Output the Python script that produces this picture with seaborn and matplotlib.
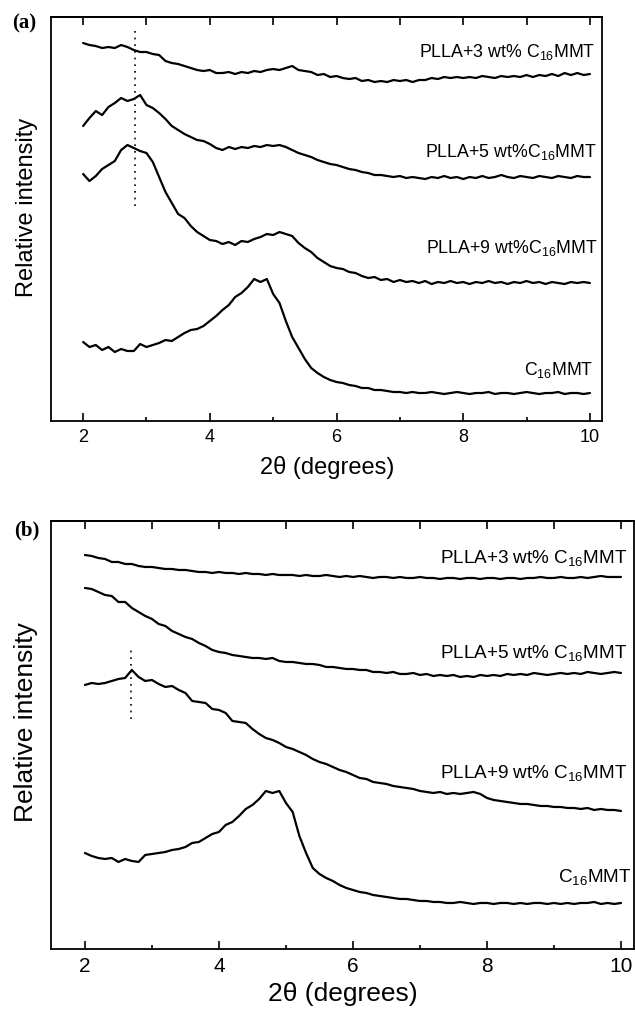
import numpy as np
import pandas as pd
import seaborn as sns
from matplotlib import pyplot as plt

# 2-theta grid shared by every pattern (degrees)
two_theta = [round(2.0 + 0.1 * i, 1) for i in range(81)]

# panel (a) intensities, arbitrary units
a_plla3 = [378, 376, 375, 373, 374, 373, 376, 374, 371, 369,
           369, 367, 366, 360, 358, 357, 355, 353, 351, 350,
           351, 348, 348, 349, 347, 349, 348, 350, 349, 351,
           352, 351, 353, 355, 351, 350, 349, 346, 347, 344,
           345, 343, 342, 343, 340, 341, 339, 340, 339, 341,
           340, 341, 339, 341, 341, 343, 342, 344, 343, 344,
           343, 344, 343, 345, 344, 343, 345, 344, 345, 344,
           346, 344, 346, 345, 347, 345, 348, 346, 348, 346, 347]
a_plla5 = [295, 303, 310, 306, 314, 318, 323, 320, 322, 326,
           316, 313, 308, 302, 295, 291, 287, 284, 281, 280,
           277, 273, 271, 274, 272, 274, 273, 275, 274, 276,
           275, 276, 274, 271, 268, 266, 264, 261, 259, 257,
           256, 254, 252, 251, 249, 248, 246, 246, 245, 244,
           245, 243, 244, 243, 242, 244, 243, 245, 243, 244,
           242, 244, 243, 245, 243, 244, 246, 244, 243, 245,
           244, 243, 245, 244, 243, 245, 244, 243, 245, 244, 244]
a_plla9 = [247, 240, 245, 252, 256, 260, 271, 276, 273, 270,
           268, 259, 244, 229, 218, 207, 203, 195, 189, 185,
           181, 180, 177, 179, 176, 180, 179, 182, 184, 187,
           186, 189, 187, 185, 178, 173, 169, 163, 159, 155,
           153, 152, 149, 148, 145, 143, 144, 141, 142, 139,
           141, 139, 140, 138, 140, 137, 139, 138, 140, 138,
           139, 137, 139, 138, 140, 138, 139, 137, 139, 138,
           140, 138, 139, 137, 139, 138, 137, 139, 138, 139, 138]
a_c16mmt = [79, 74, 76, 71, 74, 69, 72, 70, 70, 77,
            74, 76, 78, 81, 80, 84, 88, 91, 92, 95,
            100, 105, 111, 116, 124, 128, 134, 142, 139, 142,
            127, 118, 100, 84, 73, 62, 53, 48, 44, 41,
            39, 38, 36, 35, 33, 33, 31, 31, 30, 29,
            29, 28, 29, 28, 28, 29, 28, 27, 28, 29,
            28, 27, 28, 28, 29, 27, 28, 28, 27, 28,
            29, 28, 27, 28, 28, 29, 27, 28, 28, 27, 28]

# panel (b) intensities, arbitrary units
b_plla3 = [394, 393, 391, 390, 387, 387, 385, 385, 383, 382,
           382, 381, 380, 380, 379, 379, 378, 377, 377, 376,
           377, 376, 376, 375, 376, 375, 375, 374, 375, 374,
           374, 374, 373, 374, 373, 373, 374, 373, 372, 373,
           372, 373, 372, 371, 372, 372, 371, 372, 371, 371,
           372, 371, 371, 370, 371, 371, 370, 371, 371, 370,
           371, 371, 370, 371, 371, 370, 371, 371, 372, 371,
           371, 372, 371, 371, 372, 371, 372, 373, 372, 372, 372]
b_plla5 = [361, 360, 357, 354, 353, 347, 347, 341, 337, 333,
           330, 325, 323, 318, 315, 312, 310, 306, 303, 299,
           297, 296, 294, 293, 292, 291, 291, 290, 291, 288,
           287, 287, 286, 285, 285, 284, 282, 282, 281, 280,
           280, 279, 279, 277, 277, 276, 277, 275, 275, 276,
           274, 275, 273, 274, 273, 274, 272, 273, 272, 274,
           273, 274, 273, 275, 274, 275, 274, 276, 275, 274,
           275, 276, 275, 276, 275, 277, 276, 275, 276, 277, 276]
b_plla9 = [264, 266, 265, 266, 268, 270, 271, 279, 272, 268,
           269, 265, 262, 263, 259, 256, 248, 247, 246, 240,
           239, 236, 228, 227, 226, 220, 215, 211, 209, 206,
           202, 200, 197, 194, 190, 187, 185, 182, 179, 177,
           174, 171, 170, 167, 166, 165, 163, 162, 161, 160,
           158, 157, 156, 157, 155, 156, 155, 156, 157, 155,
           151, 149, 148, 147, 146, 145, 145, 144, 143, 143,
           142, 142, 141, 141, 140, 141, 139, 140, 139, 139, 138]
b_c16mmt = [96, 93, 91, 90, 91, 87, 90, 88, 87, 94,
            95, 96, 97, 99, 100, 102, 106, 107, 111, 115,
            117, 124, 127, 133, 140, 144, 150, 158, 156, 158,
            146, 137, 113, 96, 81, 75, 71, 68, 64, 61,
            59, 57, 56, 54, 53, 52, 51, 50, 50, 49,
            48, 48, 47, 47, 46, 46, 47, 46, 45, 46,
            46, 45, 46, 46, 45, 46, 45, 46, 46, 45,
            46, 45, 46, 45, 46, 46, 47, 45, 46, 45, 46]

SUB = "C$_{\\mathregular{16}}$MMT"
a_labels = ["PLLA+3 wt% " + SUB, "PLLA+5 wt%" + SUB, "PLLA+9 wt%" + SUB, SUB]
b_labels = ["PLLA+3 wt% " + SUB, "PLLA+5 wt% " + SUB, "PLLA+9 wt% " + SUB, SUB]


def long_form(series, labels):
    frames = []
    for values, name in zip(series, labels):
        frames.append(pd.DataFrame({"two_theta": two_theta, "intensity": values, "sample": name}))
    return pd.concat(frames, ignore_index=True)


def style_axis(ax, ymax, sizes):
    tick_fs, xlab_fs, ylab_fs, xpad, ylab_x = sizes
    ax.set_xlim(1.5, 10.19)
    ax.set_ylim(0, ymax)
    ax.set_xticks([2, 4, 6, 8, 10])
    ax.set_xticks([3, 5, 7, 9], minor=True)
    ax.set_yticks([])
    ax.tick_params(which="major", direction="in", length=6, width=1.2, labelsize=tick_fs, pad=6)
    ax.tick_params(which="minor", direction="in", length=3, width=1.2)
    for sp in ax.spines.values():
        sp.set_linewidth(1.3)
        sp.set_visible(True)
    top = ax.secondary_xaxis("top")
    top.set_xticks(range(2, 11))
    top.tick_params(direction="in", length=6, width=1.2, labeltop=False)
    top.spines["top"].set_linewidth(1.3)
    ax.set_xlabel("2\u03b8 (degrees)", fontsize=xlab_fs, labelpad=xpad)
    ax.set_ylabel("Relative intensity", fontsize=ylab_fs)
    ax.yaxis.set_label_coords(ylab_x, 0.53)


def draw_panel(ax, series, labels, ymax, label_fs, sizes, label_pos, dotted):
    data = long_form(series, labels)
    sns.lineplot(data=data, x="two_theta", y="intensity", units="sample", estimator=None,
                 color="black", linewidth=1.6, ax=ax, legend=False)
    ax.plot([dotted[0], dotted[0]], [dotted[1], dotted[2]], color="black", linestyle=(0, (1, 3)),
            linewidth=1.2)
    for name, (x, y) in zip(labels, label_pos):
        ax.text(x, y, name, ha="right", va="center", fontsize=label_fs)
    style_axis(ax, ymax, sizes)


def main():
    sns.set_style("ticks")
    plt.rcParams["font.family"] = ["Liberation Sans", "DejaVu Sans"]
    plt.rcParams["mathtext.default"] = "regular"
    plt.rcParams["text.color"] = "black"
    plt.rcParams["axes.labelcolor"] = "black"
    plt.rcParams["xtick.color"] = "black"
    plt.rcParams["axes.edgecolor"] = "black"

    fig = plt.figure(figsize=(6.35, 10.13), dpi=100)
    ax_a = fig.add_axes([0.081, 0.5844, 0.867, 0.3988])
    ax_b = fig.add_axes([0.081, 0.0632, 0.917, 0.4225])

    draw_panel(ax_a, [a_plla3, a_plla5, a_plla9, a_c16mmt], a_labels, 404, 12.8,
               (13, 17, 17, 7, -0.024),
               [(10.08, 369), (10.1, 269), (10.11, 173), (10.05, 51)], (2.82, 215, 393))
    draw_panel(ax_b, [b_plla3, b_plla5, b_plla9, b_c16mmt], b_labels, 428, 13.6,
               (15, 19, 19, 4, -0.023),
               [(10.1, 391), (10.1, 296), (10.1, 176), (10.16, 72)], (2.68, 230, 301))

    fig.text(12 / 635, 1 - 23 / 1013, "(a)", fontsize=15, fontweight="bold",
             family="Liberation Serif", va="center")
    fig.text(14 / 635, 1 - 530 / 1013, "(b)", fontsize=15, fontweight="bold",
             family="Liberation Serif", va="center")

    plt.savefig("out.png", dpi=100)
    plt.close()


if __name__ == '__main__':
    main()
